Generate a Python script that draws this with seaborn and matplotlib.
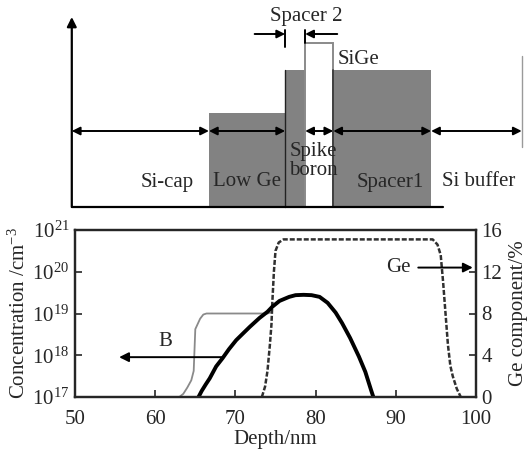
import numpy as np
import pandas as pd
import matplotlib
matplotlib.use("Agg")
import matplotlib.pyplot as plt
import seaborn as sns
from matplotlib.patches import Rectangle
from matplotlib.ticker import NullLocator

sns.set_style("ticks")
plt.rcParams["font.family"] = ["Liberation Serif", "DejaVu Serif"]
plt.rcParams["mathtext.fontset"] = "custom"
plt.rcParams["mathtext.rm"] = "Liberation Serif"
plt.rcParams["mathtext.it"] = "Liberation Serif:italic"

# ---------------- data ----------------
b_depth = [65.4, 65.8, 66.3, 66.8, 67.6, 68.4, 69.2, 70.1, 71.0, 71.8, 73.0, 74.0,
           74.6, 75.5, 76.7, 77.5, 78.5, 79.5, 80.5, 81.5, 82.5, 83.3, 84.3, 85.4,
           86.2, 86.9, 87.2]
b_conc = [1.0e17, 1.4e17, 2.0e17, 2.8e17, 5.4e17, 8.5e17, 1.4e18, 2.3e18, 3.4e18,
          4.8e18, 7.8e18, 1.1e19, 1.45e19, 2.0e19, 2.5e19, 2.75e19, 2.8e19, 2.75e19,
          2.5e19, 1.8e19, 1.05e19, 5.9e18, 2.6e18, 9.3e17, 4.0e17, 1.5e17, 1.0e17]

ge_low_depth = [63.0, 63.5, 64.0, 64.5, 64.8, 64.9, 65.0, 65.3, 65.6, 66.0, 66.4, 74.0, 74.4]
ge_low_pct = [0.0, 0.3, 0.9, 1.6, 2.5, 4.5, 6.5, 7.0, 7.5, 7.9, 8.0, 8.0, 8.1]

ge_high_depth = [73.3, 73.7, 74.0, 74.3, 74.5, 74.6, 74.8, 75.0, 75.4, 76.0, 94.6,
                 95.2, 95.6, 95.9, 96.2, 96.5, 96.8, 97.1, 97.6, 98.1]
ge_high_pct = [0.0, 1.0, 2.5, 5.0, 7.0, 9.0, 12.0, 14.0, 14.8, 15.1, 15.1,
               14.6, 13.6, 11.0, 8.0, 5.0, 3.0, 2.0, 0.8, 0.0]

x_ticks = [50, 60, 70, 80, 90, 100]
left_ticks = [1e17, 1e18, 1e19, 1e20, 1e21]
left_ticklabels = [r"$10^{17}$", r"$10^{18}$", r"$10^{19}$", r"$10^{20}$", r"$10^{21}$"]
right_ticks = [0, 4, 8, 12, 16]

# schematic layers (depth, nm) and relative heights
axis_start = 49.6
layer_edges = [49.6, 66.7, 76.2, 78.7, 82.2, 94.4, 105.7]
low_ge_height = 94
sige_height = 137
spike_height = 164
arrow_level = 76

W, H = 531, 451
fig = plt.figure(figsize=(W / 100, H / 100), dpi=100)
L = 75 / W
AW = (476 - 75) / W
ax = fig.add_axes([L, 1 - 397 / H, AW, (397 - 230) / H])
ax2 = ax.twinx()
ax0 = fig.add_axes([L, 1 - 207 / H, AW, (207 - 17) / H])

FS = 15

# ---------------- bottom chart ----------------
df_b = pd.DataFrame({"depth": b_depth, "conc": b_conc})
df_gl = pd.DataFrame({"depth": ge_low_depth, "ge": ge_low_pct})
df_gh = pd.DataFrame({"depth": ge_high_depth, "ge": ge_high_pct})

sns.lineplot(data=df_gl, x="depth", y="ge", ax=ax2, color="#8a8a8a", lw=1.3,
             sort=False, estimator=None)
sns.lineplot(data=df_gh, x="depth", y="ge", ax=ax2, color="#303030", lw=1.8,
             sort=False, estimator=None, linestyle=(0, (2.0, 0.8)))
ax.set_yscale("log")
sns.lineplot(data=df_b, x="depth", y="conc", ax=ax, color="black", lw=2.8,
             sort=False, estimator=None)
ax.set_zorder(ax2.get_zorder() + 1)
ax.patch.set_visible(False)

ax.set_xlim(50, 100)
ax.set_ylim(1e17, 1e21)
ax2.set_ylim(0, 16)
ax.set_xticks(x_ticks)
ax.set_yticks(left_ticks)
ax.set_yticklabels(left_ticklabels)
ax.yaxis.set_minor_locator(NullLocator())
ax2.set_yticks(right_ticks)
for a in (ax, ax2):
    a.tick_params(direction="in", length=5, width=1.2, labelsize=FS, pad=4)
    for s in a.spines.values():
        s.set_linewidth(1.6)
        s.set_visible(True)
ax.tick_params(axis="x", pad=9)
ax.set_xlabel("Depth/nm", fontsize=FS, labelpad=1)
ax.set_ylabel(r"Concentration /cm$^{-3}$", fontsize=FS, labelpad=2)
ax2.set_ylabel("Ge component/%", fontsize=FS, labelpad=5)

ax.annotate("", xy=(55.5, 9e17), xytext=(68.4, 9e17),
            arrowprops=dict(arrowstyle="-|>", color="black", lw=1.4,
                            mutation_scale=14, shrinkA=0, shrinkB=0))
ax.text(61.2, 2.1e18, "B", fontsize=FS, ha="center", va="center")
ax2.annotate("", xy=(99.6, 12.4), xytext=(92.8, 12.4),
             arrowprops=dict(arrowstyle="-|>", color="black", lw=1.4,
                             mutation_scale=14, shrinkA=0, shrinkB=0))
ax2.text(91.8, 12.4, "Ge", fontsize=FS, ha="right", va="center")

# ---------------- top schematic ----------------
ax0.set_xlim(50, 100)
ax0.set_ylim(0, 190)
ax0.axis("off")
gray = "#828282"
e = layer_edges
ax0.add_patch(Rectangle((e[1], 0), e[2] - e[1], low_ge_height, fc=gray, ec="none", clip_on=False))
ax0.add_patch(Rectangle((e[2], 0), e[5] - e[2], sige_height, fc=gray, ec="none", clip_on=False))
ax0.add_patch(Rectangle((e[3], 0), e[4] - e[3], spike_height, fc="white", ec="#8a8a8a",
                        lw=1.4, clip_on=False))
ax0.plot([e[2], e[2]], [0, sige_height], color="#222222", lw=1.0, clip_on=False)
ax0.plot([e[4], e[4]], [0, sige_height], color="#333333", lw=1.2, clip_on=False)
ax0.plot([e[6], e[6]], [60, 151], color="#9a9a9a", lw=1.0, clip_on=False)

# axes of schematic
ax0.plot([axis_start, 95.9], [0, 0], color="black", lw=1.6, clip_on=False)
ax0.annotate("", xy=(axis_start, 190), xytext=(axis_start, 0),
             arrowprops=dict(arrowstyle="-|>", color="black", lw=1.6,
                             mutation_scale=14, shrinkA=0, shrinkB=0),
             annotation_clip=False)

# double arrows for layers
for a0, a1 in [(e[0], e[1]), (e[1], e[2]), (e[3], e[4]), (e[4], e[5]), (e[5], e[6])]:
    ax0.annotate("", xy=(a1, arrow_level), xytext=(a0, arrow_level),
                 arrowprops=dict(arrowstyle="<|-|>", color="black", lw=1.4,
                                 mutation_scale=12, shrinkA=0, shrinkB=0),
                 annotation_clip=False)

# spacer 2 marker
ax0.annotate("", xy=(e[2], 173), xytext=(72.4, 173),
             arrowprops=dict(arrowstyle="-|>", color="black", lw=1.4,
                             mutation_scale=12, shrinkA=0, shrinkB=0),
             annotation_clip=False)
ax0.annotate("", xy=(e[3], 173), xytext=(82.7, 173),
             arrowprops=dict(arrowstyle="-|>", color="black", lw=1.4,
                             mutation_scale=12, shrinkA=0, shrinkB=0),
             annotation_clip=False)
ax0.plot([e[2], e[2]], [160, 177], color="black", lw=1.4, clip_on=False)
ax0.plot([e[3], e[3]], [164, 177], color="black", lw=1.4, clip_on=False)

ax0.text(78.8, 191, "Spacer 2", fontsize=FS, ha="center", va="center")
ax0.text(82.8, 147, "SiGe", fontsize=FS, ha="left", va="center")
ax0.text(61.5, 25, "Si-cap", fontsize=FS, ha="center", va="center")
ax0.text(71.4, 25, "Low Ge", fontsize=FS, ha="center", va="center")
ax0.text(79.7, 46, "Spike\nboron", fontsize=FS, ha="center", va="center", linespacing=0.95)
ax0.text(89.3, 25, "Spacer1", fontsize=FS, ha="center", va="center")
ax0.text(100.3, 25, "Si buffer", fontsize=FS, ha="center", va="center")

fig.savefig("out.png", dpi=100)
